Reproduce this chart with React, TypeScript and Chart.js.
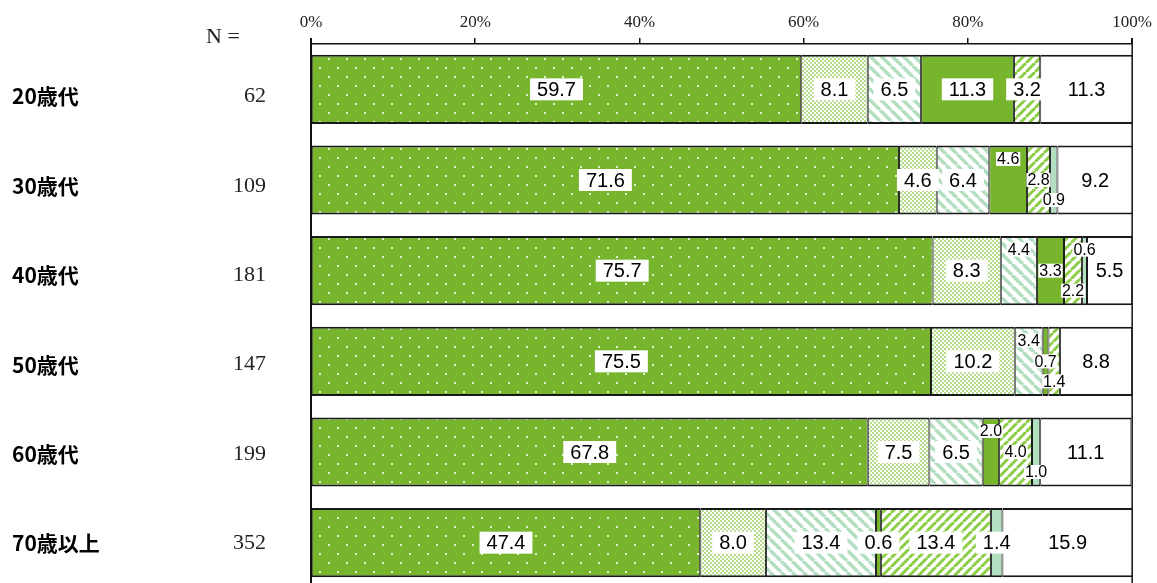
import { useEffect, useRef } from "react";
import { Chart, registerables } from "chart.js";

Chart.register(...registerables);

// ---- data ----
const categories = ["20歳代", "30歳代", "40歳代", "50歳代", "60歳代", "70歳以上"];
const sampleSizes = ["62", "109", "181", "147", "199", "352"];
const xTicks = [0, 20, 40, 60, 80, 100];
const seriesNames = ["A", "B", "C", "D", "E", "F", "G"];
const s1 = [59.7, 71.6, 75.7, 75.5, 67.8, 47.4];
const s2 = [8.1, 4.6, 8.3, 10.2, 7.5, 8.0];
const s3 = [6.5, 6.4, 4.4, 3.4, 6.5, 13.4];
const s4 = [11.3, 4.6, 3.3, 0.7, 2.0, 0.6];
const s5 = [3.2, 2.8, 2.2, 1.4, 4.0, 13.4];
const s6 = [0, 0.9, 0.6, 0, 1.0, 1.4];
const s7 = [11.3, 9.2, 5.5, 8.8, 11.1, 15.9];

// label placement per category (row) and series: m = middle, t = above, b = below
const labelPlace = [
  ["m", "m", "m", "m", "m", "m", "m"],
  ["m", "m", "m", "t", "m", "b", "m"],
  ["m", "m", "t", "m", "b", "t", "m"],
  ["m", "m", "t", "m", "b", "m", "m"],
  ["m", "m", "m", "t", "m", "b", "m"],
  ["m", "m", "m", "m", "m", "m", "m"],
];
const smallLabel = [
  [0, 0, 0, 0, 0, 0, 0],
  [0, 0, 0, 1, 1, 1, 0],
  [0, 0, 1, 1, 1, 1, 0],
  [0, 0, 1, 1, 1, 0, 0],
  [0, 0, 0, 1, 1, 1, 0],
  [0, 0, 0, 0, 0, 0, 0],
];

const GREEN = "#76b52c";
const MINT = "#b3dfc1";

function makePattern(w: number, h: number, draw: (g: CanvasRenderingContext2D) => void) {
  const c = document.createElement("canvas");
  c.width = w;
  c.height = h;
  const g = c.getContext("2d")!;
  draw(g);
  return g.createPattern(c, "repeat")!;
}

function buildFills() {
  const p1 = makePattern(18, 18, (g) => {
    g.fillStyle = GREEN;
    g.fillRect(0, 0, 18, 18);
    g.fillStyle = "#e2f1cf";
    g.fillRect(4, 4, 2, 2);
    g.fillRect(13, 13, 2, 2);
  });
  const p2 = makePattern(4, 4, (g) => {
    g.fillStyle = "#ffffff";
    g.fillRect(0, 0, 4, 4);
    g.fillStyle = "#b4de8a";
    g.fillRect(0, 0, 2, 2);
    g.fillRect(2, 2, 2, 2);
  });
  const p3 = makePattern(11, 11, (g) => {
    g.fillStyle = "#ffffff";
    g.fillRect(0, 0, 11, 11);
    g.strokeStyle = MINT;
    g.lineWidth = 3.5;
    for (let k = -1; k <= 1; k++) {
      g.beginPath();
      g.moveTo(k * 11, 0);
      g.lineTo(k * 11 + 11, 11);
      g.stroke();
    }
  });
  const p5 = makePattern(9, 9, (g) => {
    g.fillStyle = "#ffffff";
    g.fillRect(0, 0, 9, 9);
    g.strokeStyle = "#8bcd44";
    g.lineWidth = 3;
    for (let k = -1; k <= 1; k++) {
      g.beginPath();
      g.moveTo(k * 9, 9);
      g.lineTo(k * 9 + 9, 0);
      g.stroke();
    }
  });
  return [p1, p2, p3, GREEN, p5, MINT, "#ffffff"];
}

const labelPlugin = {
  id: "segLabels",
  afterDatasetsDraw(chart: any) {
    const ctx: CanvasRenderingContext2D = chart.ctx;
    const { left, right, top, bottom } = chart.chartArea;
    ctx.save();
    // frame
    ctx.strokeStyle = "#111";
    ctx.lineWidth = 2;
    ctx.beginPath();
    ctx.moveTo(left, top - 6);
    ctx.lineTo(left, bottom);
    ctx.stroke();
    ctx.lineWidth = 1.5;
    ctx.beginPath();
    ctx.moveTo(right, top - 6);
    ctx.lineTo(right, bottom);
    ctx.stroke();

    chart.data.datasets.forEach((ds: any, i: number) => {
      const meta = chart.getDatasetMeta(i);
      meta.data.forEach((el: any, j: number) => {
        const v = ds.data[j];
        if (!v) return;
        const small = smallLabel[j][i] === 1;
        const place = labelPlace[j][i];
        const size = small ? 16 : 20;
        ctx.font = `${size}px 'Liberation Sans', Arimo, Arial, sans-serif`;
        const text = Number(v).toFixed(1);
        const w = ctx.measureText(text).width;
        const cx = (el.x + el.base) / 2;
        const cy = el.y + (place === "t" ? -21 : place === "b" ? 20 : 0);
        const bw = w + (small ? 2 : 14);
        const bh = small ? 14 : 22;
        ctx.fillStyle = "#ffffff";
        ctx.fillRect(cx - bw / 2, cy - bh / 2, bw, bh);
        ctx.fillStyle = "#000000";
        ctx.textAlign = "center";
        ctx.textBaseline = "middle";
        ctx.fillText(text, cx, cy + 1);
      });
    });

    // "N =" header
    ctx.font = "22px 'Liberation Serif', serif";
    ctx.fillStyle = "#222";
    ctx.textAlign = "left";
    ctx.textBaseline = "middle";
    ctx.fillText("N =", 206, 37);
    ctx.restore();
  },
};

const rowMin = -0.587;
const rowMax = 5.498;

function rowAxis(labels: string[], weight: number, width: number, extra: any) {
  return {
    type: "linear",
    position: "left",
    weight,
    reverse: true,
    offset: false,
    min: rowMin,
    max: rowMax,
    bounds: "data",
    afterDataLimits: (s: any) => {
      s.min = rowMin;
      s.max = rowMax;
    },
    afterBuildTicks: (s: any) => {
      s.ticks = labels.map((_, k) => ({ value: k }));
      s.min = rowMin;
      s.max = rowMax;
    },
    afterFit: (s: any) => {
      s.width = width;
      s.paddingTop = 0;
      s.paddingBottom = 0;
    },
    ticks: {
      callback: (v: any) => labels[v] ?? "",
      padding: 0,
      ...extra,
    },
    grid: { display: false, drawTicks: false, offset: false },
    border: { display: false },
  };
}

export default function App() {
  const ref = useRef<HTMLCanvasElement>(null);

  useEffect(() => {
    const canvas = ref.current!;
    const fills = buildFills();
    const series = [s1, s2, s3, s4, s5, s6, s7];

    const chart = new Chart(canvas, {
      type: "bar",
      data: {
        labels: categories,
        datasets: series.map((d, i) => ({
          label: seriesNames[i],
          data: d,
          backgroundColor: fills[i] as any,
          borderColor: "#1a1a1a",
          borderWidth: { top: 2, bottom: 2, left: 1, right: 1 },
          borderSkipped: false,
          barPercentage: 0.762,
          categoryPercentage: 1,
        })),
      },
      options: {
        indexAxis: "y",
        responsive: false,
        animation: false,
        devicePixelRatio: 1,
        layout: { padding: { left: 12, right: 24, top: 0, bottom: 12 } },
        plugins: { legend: { display: false }, tooltip: { enabled: false } },
        scales: {
          x: {
            type: "linear",
            position: "top",
            stacked: true,
            min: 0,
            max: 100,
            afterBuildTicks: (s: any) => {
              s.ticks = xTicks.map((v) => ({ value: v }));
            },
            afterFit: (s: any) => {
              s.height = 44;
            },
            ticks: {
              callback: (v: any) => v + "%",
              font: { family: "'Liberation Serif', serif", size: 17 },
              color: "#222",
              padding: 5,
              maxRotation: 0,
            },
            grid: { drawOnChartArea: false, drawTicks: true, tickLength: 6, color: "#111", lineWidth: 1.5 },
            border: { display: true, color: "#111", width: 1.5 },
          },
          y: {
            type: "category",
            position: "left",
            stacked: true,
            weight: 0,
            afterFit: (s: any) => {
              s.width = 45;
              s.paddingTop = 0;
              s.paddingBottom = 0;
            },
            ticks: { display: false },
            grid: { display: false, drawTicks: false },
            border: { display: false },
          },
          yName: rowAxis(categories, 10, 150, {
            crossAlign: "far",
            color: "#000",
            font: { family: "'Noto Sans CJK JP', sans-serif", size: 21, weight: "bold" },
          }),
          yN: rowAxis(sampleSizes, 5, 104, {
            color: "#222",
            font: { family: "'Liberation Serif', serif", size: 22 },
          }),
        },
      } as any,
      plugins: [labelPlugin],
    });
    return () => chart.destroy();
  }, []);

  return (
    <div
      style={{
        position: "absolute",
        left: 0,
        top: 0,
        width: 1157,
        height: 583,
        overflow: "hidden",
        background: "#fff",
      }}
    >
      <canvas ref={ref} width={1157} height={600} style={{ display: "block", width: 1157, height: 600 }} />
    </div>
  );
}
